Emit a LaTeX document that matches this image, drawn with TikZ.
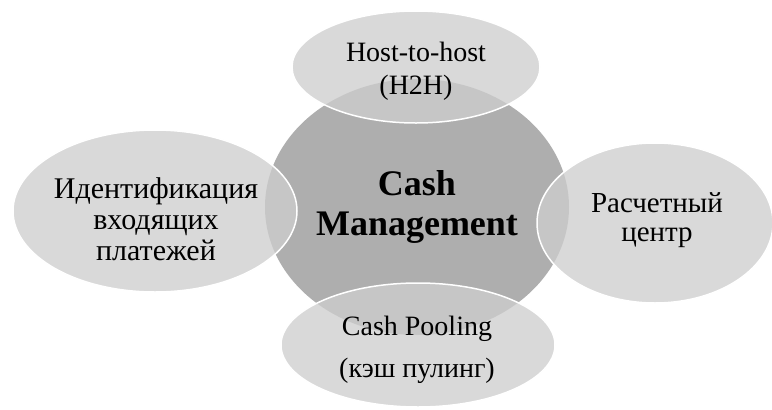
\documentclass[tikz,border=0pt]{standalone}
\usepackage{fontspec}
\setmainfont{Liberation Serif}
\usetikzlibrary{shapes.geometric}
\begin{document}
\begin{tikzpicture}[x=1pt,y=-1pt,
  core/.style={ellipse, fill=coregray, draw=none, inner sep=0pt, align=center,
    font=\fontsize{36}{40}\selectfont\bfseries},
  sat/.style={ellipse, fill=satgray, fill opacity=0.77, text opacity=1, draw=white,
    line width=1.5pt, inner sep=0pt, align=center}]
\definecolor{coregray}{RGB}{174,174,174}
\definecolor{satgray}{RGB}{206,206,206}
\useasboundingbox (0,0) rectangle (772,410);
\fill[white] (0,0) rectangle (772,410);
\node[core, minimum width=304pt, minimum height=256pt] (cm) at (417,207) {Cash\\Management};
\node[sat, minimum width=248pt, minimum height=112pt] (h2h) at (416,67) {};
\node[font=\fontsize{28}{33}\selectfont, align=center] (h2ht) at (416,71) {Host-to-host\\(H2H)};
\node[sat, minimum width=284pt, minimum height=162pt] (ident) at (155,211) {};
\node[font=\fontsize{30}{31}\selectfont, align=center] (identt) at (156,219) {Идентификация\\входящих\\платежей};
\node[sat, minimum width=236pt, minimum height=160pt] (rc) at (655,223) {};
\node[font=\fontsize{29}{29}\selectfont, align=center] (rct) at (657,220) {Расчетный\\центр};
\node[sat, minimum width=274pt, minimum height=124pt] (cp) at (418,345) {};
\node[font=\fontsize{28}{42}\selectfont, align=center] (cpt) at (417,350) {Cash Pooling\\(кэш пулинг)};
\end{tikzpicture}
\end{document}
